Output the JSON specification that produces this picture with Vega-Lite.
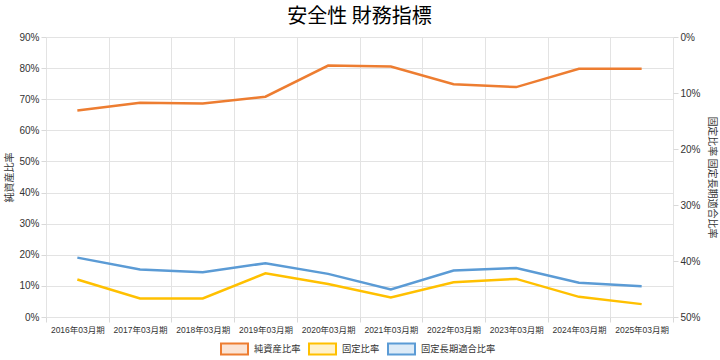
{
  "$schema": "https://vega.github.io/schema/vega-lite/v6.json",
  "width": 627,
  "height": 280,
  "autosize": {"type": "none"},
  "padding": {"left": 46, "top": 37, "right": 47, "bottom": 43},
  "background": "white",
  "title": {"text": "安全性 財務指標", "fontSize": 20, "font": "Noto Sans CJK JP", "fontWeight": "normal", "color": "#000000", "anchor": "middle", "offset": 5},
  "config": {
    "view": {"stroke": null},
    "font": "Liberation Sans, Noto Sans CJK JP",
    "axis": {
      "gridColor": "#e3e3e3",
      "gridWidth": 1,
      "domain": false,
      "tickColor": "#d9d9d9",
      "tickSize": 5,
      "labelColor": "#333333",
      "labelFont": "Liberation Sans, Noto Sans CJK JP",
      "titleFont": "Noto Sans CJK JP",
      "titleFontWeight": "normal",
      "titleColor": "#333333",
      "titleFontSize": 10
    }
  },
  "data": {
    "values": [
      {"year": "2016年03月期", "series": "純資産比率", "value": 0.664},
      {"year": "2017年03月期", "series": "純資産比率", "value": 0.689},
      {"year": "2018年03月期", "series": "純資産比率", "value": 0.686},
      {"year": "2019年03月期", "series": "純資産比率", "value": 0.708},
      {"year": "2020年03月期", "series": "純資産比率", "value": 0.808},
      {"year": "2021年03月期", "series": "純資産比率", "value": 0.805},
      {"year": "2022年03月期", "series": "純資産比率", "value": 0.748},
      {"year": "2023年03月期", "series": "純資産比率", "value": 0.739},
      {"year": "2024年03月期", "series": "純資産比率", "value": 0.798},
      {"year": "2025年03月期", "series": "純資産比率", "value": 0.798},
      {"year": "2016年03月期", "series": "固定比率", "value": 0.433},
      {"year": "2017年03月期", "series": "固定比率", "value": 0.467},
      {"year": "2018年03月期", "series": "固定比率", "value": 0.467},
      {"year": "2019年03月期", "series": "固定比率", "value": 0.422},
      {"year": "2020年03月期", "series": "固定比率", "value": 0.441},
      {"year": "2021年03月期", "series": "固定比率", "value": 0.465},
      {"year": "2022年03月期", "series": "固定比率", "value": 0.438},
      {"year": "2023年03月期", "series": "固定比率", "value": 0.432},
      {"year": "2024年03月期", "series": "固定比率", "value": 0.464},
      {"year": "2025年03月期", "series": "固定比率", "value": 0.477},
      {"year": "2016年03月期", "series": "固定長期適合比率", "value": 0.394},
      {"year": "2017年03月期", "series": "固定長期適合比率", "value": 0.415},
      {"year": "2018年03月期", "series": "固定長期適合比率", "value": 0.420},
      {"year": "2019年03月期", "series": "固定長期適合比率", "value": 0.404},
      {"year": "2020年03月期", "series": "固定長期適合比率", "value": 0.423},
      {"year": "2021年03月期", "series": "固定長期適合比率", "value": 0.451},
      {"year": "2022年03月期", "series": "固定長期適合比率", "value": 0.417},
      {"year": "2023年03月期", "series": "固定長期適合比率", "value": 0.4125},
      {"year": "2024年03月期", "series": "固定長期適合比率", "value": 0.439},
      {"year": "2025年03月期", "series": "固定長期適合比率", "value": 0.445}
    ]
  },
  "encoding": {
    "x": {
      "field": "year",
      "type": "nominal",
      "sort": null,
      "bandPosition": 0.5,
      "scale": {"type": "band", "paddingInner": 0, "paddingOuter": 0},
      "axis": {"title": null, "labelAngle": 0, "labelFontSize": 8.5, "labelPadding": 3, "tickBand": "extent", "grid": true}
    },
    "color": {
      "field": "series",
      "type": "nominal",
      "scale": {"domain": ["純資産比率", "固定比率", "固定長期適合比率"], "range": ["#ED7D31", "#FFC000", "#5B9BD5"]},
      "legend": {
        "title": null,
        "orient": "none",
        "legendX": 174,
        "legendY": 297,
        "direction": "horizontal",
        "padding": 0,
        "symbolType": "M-1,-0.41H1V0.41H-1Z",
        "symbolSize": 729,
        "symbolStrokeWidth": 2,
        "labelFontSize": 9.3,
        "labelFont": "Noto Sans CJK JP",
        "labelColor": "#333333",
        "labelOffset": 5,
        "columnPadding": 4,
        "encode": {
          "symbols": {
            "update": {
              "fill": {"signal": "datum.value === '純資産比率' ? '#FBE4D5' : datum.value === '固定比率' ? '#FFF2CC' : '#DDEBF7'"},
              "fillOpacity": {"value": 1}
            }
          }
        }
      }
    }
  },
  "layer": [
    {
      "transform": [{"filter": "datum.series === '純資産比率'"}],
      "mark": {"type": "line", "strokeWidth": 2.5},
      "encoding": {
        "y": {
          "field": "value",
          "type": "quantitative",
          "scale": {"domain": [0, 0.9], "nice": false},
          "axis": {"orient": "left", "title": "純資産比率", "values": [0, 0.1, 0.2, 0.3, 0.4, 0.5, 0.6, 0.7, 0.8, 0.9], "format": ".0%", "labelFontSize": 10, "titlePadding": 4}
        }
      }
    },
    {
      "transform": [{"filter": "datum.series !== '純資産比率'"}],
      "mark": {"type": "line", "strokeWidth": 2.5},
      "encoding": {
        "y": {
          "field": "value",
          "type": "quantitative",
          "scale": {"domain": [0, 0.5], "nice": false, "reverse": true},
          "axis": {"orient": "right", "title": "固定比率 固定長期適合比率", "values": [0, 0.1, 0.2, 0.3, 0.4, 0.5], "format": ".0%", "labelFontSize": 10, "titlePadding": 6}
        }
      }
    }
  ],
  "resolve": {"scale": {"y": "independent"}}
}
